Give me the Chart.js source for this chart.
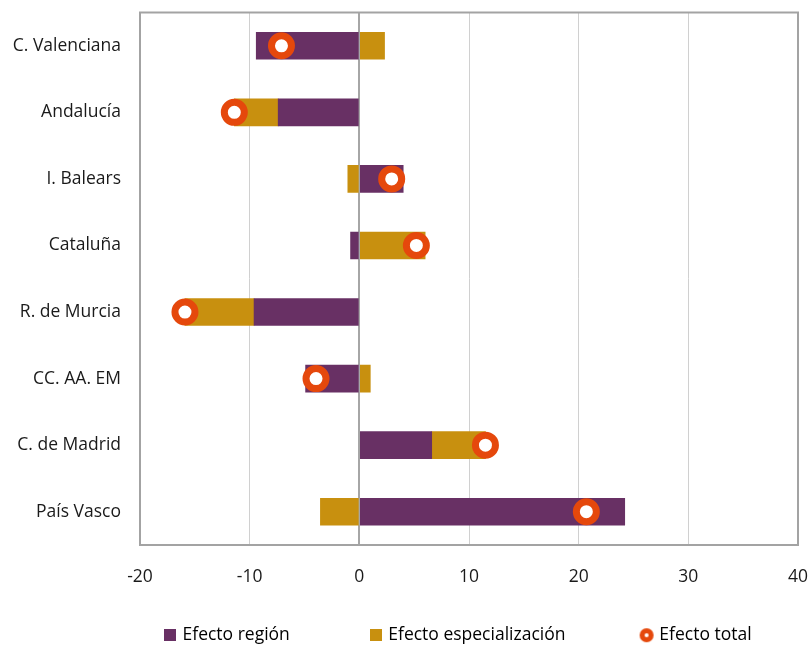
<!DOCTYPE html>
<html>
<head>
<meta charset="utf-8">
<script src="https://cdn.jsdelivr.net/npm/chart.js@4"></script>
<style>
  html, body { margin: 0; padding: 0; background: #fff; }
  #wrap { width: 808px; height: 645px; }
</style>
</head>
<body>
<div id="wrap"><canvas id="chart"></canvas></div>
<script>
// datos
const regiones = ['C. Valenciana', 'Andalucía', 'I. Balears', 'Cataluña', 'R. de Murcia', 'CC. AA. EM', 'C. de Madrid', 'País Vasco'];
const efectoRegion = [-9.4, -7.4, 4.0, -0.8, -9.6, -4.9, 6.6, 24.2];
const efectoEspecializacion = [2.3, -4.0, -1.05, 6.0, -6.3, 1.0, 4.9, -3.55];
const efectoTotal = [-7.1, -11.4, 2.95, 5.2, -15.9, -3.95, 11.5, 20.7];
const ejeMin = -20, ejeMax = 40, ejePaso = 10;

const morado = '#683064';
const dorado = '#C8900F';
const naranja = '#E5480C';
const fuente = '"Open Sans", "Noto Sans", sans-serif';
const tamFuente = 17.5;

Chart.defaults.font.family = fuente;
Chart.defaults.font.size = tamFuente;
Chart.defaults.color = '#1a1a1a';

// iconos de la leyenda
function iconoCuadro(color) {
    let c = document.createElement('canvas');
    c.width = 12; c.height = 12;
    let g = c.getContext('2d');
    g.fillStyle = color;
    g.fillRect(0, 0, 12, 12);
    return c;
}
function iconoAro() {
    let c = document.createElement('canvas');
    c.width = 16; c.height = 16;
    let g = c.getContext('2d');
    g.beginPath();
    g.arc(8, 8, 4.5, 0, Math.PI * 2);
    g.fillStyle = '#fff';
    g.fill();
    g.lineWidth = 5;
    g.strokeStyle = naranja;
    g.stroke();
    return c;
}
const iconos = [iconoCuadro(morado), iconoCuadro(dorado), iconoAro()];

// rellena con espacios para separar las entradas de la leyenda
const anchosLeyenda = [179, 245, 129];
let medidor = document.createElement('canvas').getContext('2d');
medidor.font = tamFuente + 'px ' + fuente;
function rellenar(texto, ancho) {
    let t = texto;
    while (medidor.measureText(t + ' ').width <= ancho) t += ' ';
    while (medidor.measureText(t + '\u200A').width <= ancho && medidor.measureText(t + '\u200A').width > medidor.measureText(t).width) t += '\u200A';
    return t;
}

const marco = {
    id: 'marco',
    afterDatasetsDraw(chart) {
        let a = chart.chartArea;
        let ctx = chart.ctx;
        ctx.save();
        ctx.strokeStyle = '#a3a3a3';
        ctx.lineWidth = 2;
        ctx.strokeRect(a.left, a.top, a.right - a.left, a.bottom - a.top);
        ctx.restore();
    }
};

new Chart(document.getElementById('chart'), {
    type: 'bar',
    data: {
        labels: regiones,
        datasets: [
            {
                label: 'Efecto región',
                data: efectoRegion,
                backgroundColor: morado,
                barThickness: 27,
                order: 1
            },
            {
                label: 'Efecto especialización',
                data: efectoEspecializacion,
                backgroundColor: dorado,
                barThickness: 27,
                order: 1
            },
            {
                type: 'line',
                label: 'Efecto total',
                data: efectoTotal,
                showLine: false,
                pointRadius: 10,
                pointHoverRadius: 10,
                borderWidth: 7,
                pointBorderWidth: 7,
                borderColor: naranja,
                pointBackgroundColor: '#fff',
                pointBorderColor: naranja,
                clip: false,
                order: 0
            }
        ]
    },
    options: {
        indexAxis: 'y',
        responsive: true,
        maintainAspectRatio: false,
        animation: false,
        layout: { autoPadding: false, padding: { top: 12.5, right: 10, bottom: -9, left: 0 } },
        scales: {
            x: {
                stacked: true,
                min: ejeMin,
                max: ejeMax,
                afterFit(axis) {
                    axis.height = 71.5;
                    axis.paddingLeft = 0;
                    axis.paddingRight = 0;
                },
                grid: {
                    drawTicks: false,
                    color: ctx => ctx.tick && ctx.tick.value === 0 ? '#a6a6a6' : '#d0d0d0',
                    lineWidth: ctx => ctx.tick && ctx.tick.value === 0 ? 2 : 1
                },
                border: { display: false },
                ticks: { stepSize: ejePaso, padding: 22, color: '#1a1a1a', maxRotation: 0 }
            },
            y: {
                stacked: true,
                afterFit(axis) {
                    axis.width = 140;
                    axis.paddingTop = 0;
                    axis.paddingBottom = 0;
                },
                grid: { display: false, drawTicks: false },
                border: { display: false },
                ticks: { padding: 19, color: '#1a1a1a' }
            }
        },
        plugins: {
            tooltip: { enabled: false },
            legend: {
                position: 'bottom',
                align: 'end',
                labels: {
                    usePointStyle: true,
                    boxWidth: 8,
                    boxHeight: 12,
                    padding: 10,
                    color: '#1a1a1a',
                    generateLabels(chart) {
                        return chart.data.datasets.map((ds, i) => ({
                            text: rellenar(ds.label, anchosLeyenda[i]),
                            pointStyle: iconos[i],
                            fillStyle: '#fff',
                            strokeStyle: '#fff',
                            lineWidth: 0,
                            hidden: false,
                            datasetIndex: i
                        }));
                    }
                }
            }
        }
    },
    plugins: [marco]
});
</script>
</body>
</html>
